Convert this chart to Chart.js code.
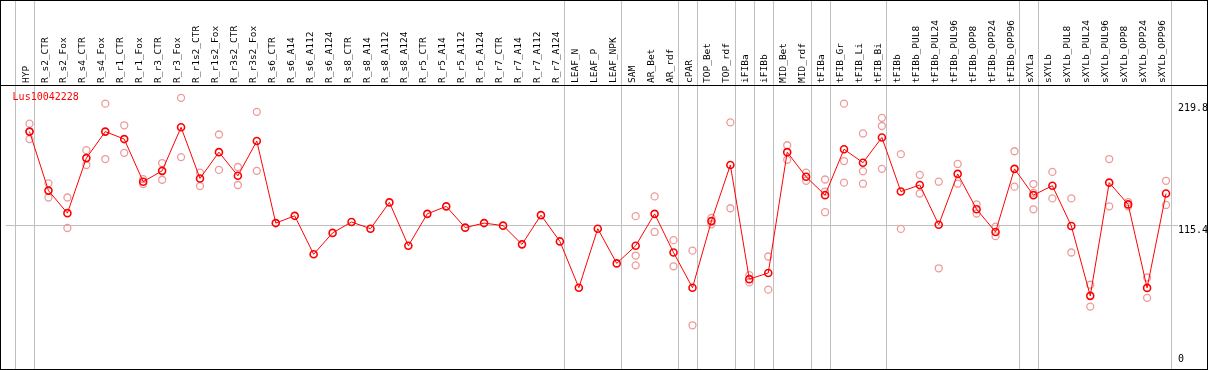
<!DOCTYPE html>
<html lang="en">
<head>
    <meta charset="UTF-8">
    <title>Lus10042228</title>
    <script src="https://cdn.jsdelivr.net/npm/chart.js"></script>
    <style>
        html, body { margin: 0; padding: 0; background: #fff; }
        canvas { display: block; }
    </style>
</head>
<body>
    <canvas id="expr" width="1209" height="370"></canvas>

    <script>
        const geneName = 'Lus10042228';

        const categories = ['HYP', 'R_s2_CTR', 'R_s2_Fox', 'R_s4_CTR', 'R_s4_Fox', 'R_r1_CTR', 'R_r1_Fox',
            'R_r3_CTR', 'R_r3_Fox', 'R_r1s2_CTR', 'R_r1s2_Fox', 'R_r3s2_CTR', 'R_r3s2_Fox',
            'R_s6_CTR', 'R_s6_A14', 'R_s6_A112', 'R_s6_A124', 'R_s8_CTR', 'R_s8_A14', 'R_s8_A112', 'R_s8_A124',
            'R_r5_CTR', 'R_r5_A14', 'R_r5_A112', 'R_r5_A124', 'R_r7_CTR', 'R_r7_A14', 'R_r7_A112', 'R_r7_A124',
            'LEAF_N', 'LEAF_P', 'LEAF_NPK', 'SAM', 'AR_Bet', 'AR_rdf', 'cPAR', 'TOP_Bet', 'TOP_rdf',
            'iFIBa', 'iFIBb', 'MID_Bet', 'MID_rdf', 'tFIBa', 'tFIB_Gr', 'tFIB_Li', 'tFIB_Bi',
            'tFIBb', 'tFIBb_PUL8', 'tFIBb_PUL24', 'tFIBb_PUL96', 'tFIBb_OPP8', 'tFIBb_OPP24', 'tFIBb_OPP96',
            'sXYLa', 'sXYLb', 'sXYLb_PUL8', 'sXYLb_PUL24', 'sXYLb_PUL96', 'sXYLb_OPP8', 'sXYLb_OPP24', 'sXYLb_OPP96'];

        // mean expression (red line)
        const meanValues = [195.9, 145.4, 126.1, 173.2, 195.9, 189.5, 153.0, 162.3, 199.6, 155.8, 178.3, 158.1, 187.8,
            117.6, 123.8, 90.9, 109.2, 118.5, 112.8, 135.3, 98.2, 125.5, 131.9, 113.7, 117.6, 115.4, 99.4, 124.4, 101.9,
            62.3, 112.8, 83.1, 98.2, 125.5, 92.4, 62.3, 119.3, 167.3, 69.6, 74.9, 178.3, 157.2, 141.5, 180.8, 169.3, 190.9,
            144.6, 150.2, 116.2, 159.7, 129.4, 110.0, 164.0, 141.5, 149.6, 115.1, 55.3, 152.2, 133.6, 62.1, 142.9];

        // individual replicates (pale circles)
        const rep1 = [202.7, 151.6, 139.5, 180.0, 219.8, 201.3, 155.2, 169.0, 224.8, 160.8, 193.4, 165.6, 212.8,
            null, null, null, null, null, null, null, null, null, null, null, null, null, null, null, null,
            null, null, null, 123.5, 140.4, 103.0, 94.0, 122.1, 203.8, 73.0, 89.0, 184.2, 160.8, 154.9, 219.8, 194.3, 207.7,
            176.6, 158.9, 153.0, 168.2, 133.6, 114.5, 179.1, 151.0, 161.4, 138.7, 64.8, 172.4, 135.6, 71.0, 153.8];
        const rep2 = [195.9, 139.5, 113.4, 167.3, 172.4, 177.7, 151.0, 154.7, 174.1, 149.3, 163.1, 150.2, 162.3,
            null, null, null, null, null, null, null, null, null, null, null, null, null, null, null, null,
            null, null, null, 89.8, 110.0, 80.6, 30.1, 116.5, 130.3, 66.8, 60.6, 171.8, 153.8, 144.6, 170.7, 162.0, 200.7,
            112.6, 142.9, 78.9, 151.3, 125.8, 106.4, 148.8, 143.5, 138.7, 92.4, 46.1, 131.9, 131.9, 53.6, 133.1];
        const rep3 = [189.5, null, null, null, null, null, null, null, null, null, null, null, null,
            null, null, null, null, null, null, null, null, null, null, null, null, null, null, null, null,
            null, null, null, 81.4, null, null, null, null, null, null, null, null, null, 126.9, 152.2, 151.3, 164.0,
            null, null, null, null, null, null, null, 129.4, null, null, null, null, null, null, null];

        const yTickValues = [0, 115.4, 219.8];
        // last index of each tissue group, a grey separator follows it
        const groupEnds = [-1, 0, 28, 31, 34, 35, 37, 38, 39, 41, 42, 45, 52, 53, 60];

        const toPoints = arr => arr.map((v, i) => ({ x: i, y: v }));
        const monoFont = 'DejaVu Sans Mono';

        // grey separators, frame and header rule, y labels, gene name
        const framePlugin = {
            id: 'frame',
            beforeDatasetsDraw(chart) {
                const ctx = chart.ctx;
                const xs = chart.scales.x;
                const area = chart.chartArea;
                ctx.save();
                ctx.lineWidth = 1;
                ctx.strokeStyle = '#c0c0c0';
                groupEnds.forEach(g => {
                    const px = Math.round(xs.getPixelForValue(g + 0.24)) + 0.5;
                    ctx.beginPath();
                    ctx.moveTo(px, 0);
                    ctx.lineTo(px, chart.height);
                    ctx.stroke();
                });
                ctx.strokeStyle = '#000';
                ctx.strokeRect(0.5, 0.5, chart.width - 2, chart.height - 1);
                ctx.beginPath();
                ctx.moveTo(0, area.top + 0.5);
                ctx.lineTo(chart.width - 1, area.top + 0.5);
                ctx.stroke();
                ctx.restore();
            },
            afterDraw(chart) {
                const ctx = chart.ctx;
                const ys = chart.scales.y;
                const area = chart.chartArea;
                ctx.save();
                ctx.font = '10px "' + monoFont + '"';
                ctx.textBaseline = 'top';
                ctx.textAlign = 'left';
                ctx.fillStyle = '#000';
                yTickValues.forEach(v => {
                    const py = Math.min(ys.getPixelForValue(v), area.bottom - 10);
                    ctx.fillText(String(v), area.right, py);
                });
                ctx.fillStyle = '#ff0000';
                ctx.fillText(geneName, area.left + 7, area.top + 7);
                ctx.restore();
            }
        };

        const ctx = document.getElementById('expr').getContext('2d');
        const pale = '#ee9a9a';

        const repDataset = (arr) => ({
            data: toPoints(arr),
            showLine: false,
            pointRadius: 3.5,
            pointBorderWidth: 1.3,
            pointBorderColor: pale,
            pointBackgroundColor: 'transparent'
        });

        new Chart(ctx, {
            type: 'line',
            data: {
                datasets: [
                    {
                        label: geneName,
                        data: toPoints(meanValues),
                        borderColor: '#ff0000',
                        borderWidth: 1,
                        tension: 0,
                        pointRadius: 3.5,
                        pointBorderWidth: 1.6,
                        pointBorderColor: '#ff0000',
                        pointBackgroundColor: 'transparent'
                    },
                    repDataset(rep1),
                    repDataset(rep2),
                    repDataset(rep3)
                ]
            },
            options: {
                responsive: false,
                animation: false,
                devicePixelRatio: 1,
                layout: { padding: { top: 0, left: 2, right: 2, bottom: 1 } },
                plugins: { legend: { display: false }, tooltip: { enabled: false } },
                scales: {
                    x: {
                        type: 'linear',
                        position: 'top',
                        bounds: 'data',
                        min: -1.263,
                        max: 60.632,
                        afterBuildTicks: axis => {
                            axis.ticks = categories.map((_, i) => ({ value: i }));
                        },
                        afterFit: axis => { axis.height = 85; },
                        grid: { display: false, drawTicks: false, tickLength: 0 },
                        border: { display: false },
                        ticks: {
                            autoSkip: false,
                            minRotation: 90,
                            maxRotation: 90,
                            padding: 2,
                            labelOffset: 8,
                            color: '#000',
                            font: { family: monoFont, size: 9.5 },
                            callback: v => categories[v]
                        }
                    },
                    y: {
                        type: 'linear',
                        position: 'right',
                        bounds: 'data',
                        min: -3.37,
                        max: 235.79,
                        afterBuildTicks: axis => {
                            axis.ticks = yTickValues.map(v => ({ value: v }));
                        },
                        afterFit: axis => { axis.width = 29; },
                        border: { display: false },
                        grid: {
                            drawTicks: false,
                            color: c => (c.tick && c.tick.value === 115.4) ? '#c0c0c0' : 'transparent'
                        },
                        ticks: { display: false }
                    }
                }
            },
            plugins: [framePlugin]
        });
    </script>
</body>
</html>
